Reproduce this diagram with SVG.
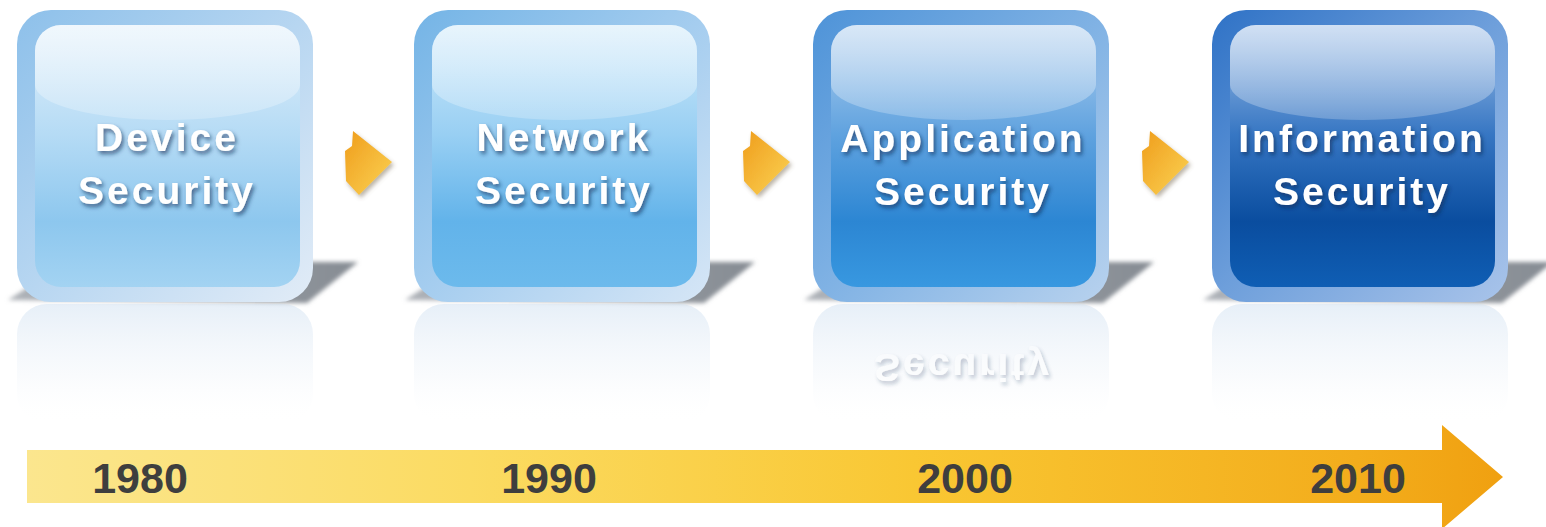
<svg xmlns="http://www.w3.org/2000/svg" width="1546" height="527" viewBox="0 0 1546 527">
<defs>
  <style>
    .lbl{font-family:"Liberation Sans",Arial,sans-serif;font-weight:bold;font-size:39px;letter-spacing:3px;fill:#ffffff;text-anchor:middle}
    .yr{font-family:"Liberation Sans",Arial,sans-serif;font-weight:bold;font-size:43px;fill:#3e3e3e;text-anchor:middle}
    .shd{fill:url(#shadowG);filter:url(#blur)}
    .gloss{fill:url(#gloss)}
  </style>
  <linearGradient id="in1" x1="0" y1="0" x2="0" y2="1">
    <stop offset="0" stop-color="#e2f0fb"/><stop offset="0.42" stop-color="#b5dbf5"/>
    <stop offset="0.75" stop-color="#8dc7ee"/><stop offset="1" stop-color="#a3d3f2"/>
  </linearGradient>
  <linearGradient id="in2" x1="0" y1="0" x2="0" y2="1">
    <stop offset="0" stop-color="#d0eafa"/><stop offset="0.42" stop-color="#98cff3"/>
    <stop offset="0.75" stop-color="#62b3ea"/><stop offset="1" stop-color="#6cbaec"/>
  </linearGradient>
  <linearGradient id="in3" x1="0" y1="0" x2="0" y2="1">
    <stop offset="0" stop-color="#b2d0ef"/><stop offset="0.42" stop-color="#5fa2df"/>
    <stop offset="0.75" stop-color="#2c86d3"/><stop offset="1" stop-color="#3898e0"/>
  </linearGradient>
  <linearGradient id="in4" x1="0" y1="0" x2="0" y2="1">
    <stop offset="0" stop-color="#a2c1e8"/><stop offset="0.42" stop-color="#3676c3"/>
    <stop offset="0.75" stop-color="#0a4d9f"/><stop offset="1" stop-color="#0f5eb4"/>
  </linearGradient>
  <linearGradient id="fr1" x1="0" y1="0" x2="1" y2="1">
    <stop offset="0" stop-color="#8dc0ea"/><stop offset="0.5" stop-color="#b7d6f1"/><stop offset="1" stop-color="#e2ecf7"/>
  </linearGradient>
  <linearGradient id="fr2" x1="0" y1="0" x2="1" y2="1">
    <stop offset="0" stop-color="#74b4e6"/><stop offset="0.5" stop-color="#a5cdef"/><stop offset="1" stop-color="#d6e6f6"/>
  </linearGradient>
  <linearGradient id="fr3" x1="0" y1="0" x2="1" y2="1">
    <stop offset="0" stop-color="#4e93d8"/><stop offset="0.5" stop-color="#80b2e4"/><stop offset="1" stop-color="#b8d2ee"/>
  </linearGradient>
  <linearGradient id="fr4" x1="0" y1="0" x2="1" y2="1">
    <stop offset="0" stop-color="#2f72c6"/><stop offset="0.5" stop-color="#6e9fdb"/><stop offset="1" stop-color="#a9c4ea"/>
  </linearGradient>
  <linearGradient id="gloss" x1="0" y1="0" x2="0" y2="1">
    <stop offset="0" stop-color="#ffffff" stop-opacity="0.5"/><stop offset="1" stop-color="#ffffff" stop-opacity="0.22"/>
  </linearGradient>
  <linearGradient id="shadowG" x1="0" y1="0" x2="1" y2="0">
    <stop offset="0" stop-color="#aeb2b8"/><stop offset="1" stop-color="#868c93"/>
  </linearGradient>
  <linearGradient id="refl" x1="0" y1="0" x2="0" y2="1">
    <stop offset="0" stop-color="#c9dcef" stop-opacity="0.45"/><stop offset="0.6" stop-color="#e2ebf5" stop-opacity="0.2"/><stop offset="1" stop-color="#ffffff" stop-opacity="0"/>
  </linearGradient>
  <linearGradient id="band" x1="27" y1="0" x2="1505" y2="0" gradientUnits="userSpaceOnUse">
    <stop offset="0" stop-color="#fbe68e"/><stop offset="0.3" stop-color="#fbdb62"/>
    <stop offset="0.6" stop-color="#f9c733"/><stop offset="0.9" stop-color="#f3ad1c"/><stop offset="1" stop-color="#f0a010"/>
  </linearGradient>
  <linearGradient id="arrowG" x1="0" y1="0" x2="1" y2="1">
    <stop offset="0" stop-color="#ef9d1c"/><stop offset="1" stop-color="#fbd354"/>
  </linearGradient>
  <filter id="ts" x="-10%" y="-30%" width="130%" height="170%">
    <feDropShadow dx="2" dy="3" stdDeviation="2" flood-color="#0b2c55" flood-opacity="0.65"/>
  </filter>
  <filter id="blur" x="-10%" y="-30%" width="120%" height="160%"><feGaussianBlur stdDeviation="2"/></filter>
  <filter id="as" x="-40%" y="-40%" width="180%" height="180%">
    <feDropShadow dx="2" dy="3" stdDeviation="2" flood-color="#6a5a40" flood-opacity="0.45"/>
  </filter>
</defs>
<rect width="1546" height="527" fill="#ffffff"/>

<g id="node-device" transform="translate(17,0)">
  <polygon class="shd" points="-9,300 290,303 341,262 50,262"/>
  <rect x="0" y="304" width="296" height="120" rx="30" fill="url(#refl)"/>
  <rect x="0" y="10" width="296" height="292" rx="34" fill="url(#fr1)"/>
  <rect x="18" y="25" width="265" height="262" rx="26" fill="url(#in1)"/>
  <path class="gloss" d="M18,51 A26,26 0 0 1 44,25 L257,25 A26,26 0 0 1 283,51 L283,85 A132.5,35 0 0 1 18,85 Z"/>
  <g filter="url(#ts)">
    <text class="lbl" x="150" y="151">Device</text>
    <text class="lbl" x="150" y="204">Security</text>
  </g>
</g>

<g id="node-network" transform="translate(414,0)">
  <polygon class="shd" points="-9,300 290,303 341,262 50,262"/>
  <rect x="0" y="304" width="296" height="120" rx="30" fill="url(#refl)"/>
  <rect x="0" y="10" width="296" height="292" rx="34" fill="url(#fr2)"/>
  <rect x="18" y="25" width="265" height="262" rx="26" fill="url(#in2)"/>
  <path class="gloss" d="M18,51 A26,26 0 0 1 44,25 L257,25 A26,26 0 0 1 283,51 L283,85 A132.5,35 0 0 1 18,85 Z"/>
  <g filter="url(#ts)">
    <text class="lbl" x="150" y="151">Network</text>
    <text class="lbl" x="150" y="204">Security</text>
  </g>
</g>

<g id="node-application" transform="translate(813,0)">
  <polygon class="shd" points="-9,300 290,303 341,262 50,262"/>
  <rect x="0" y="304" width="296" height="120" rx="30" fill="url(#refl)"/>
  <g opacity="0.4" filter="url(#ts)">
    <text class="lbl" transform="matrix(1 0 0 -1 150 354)" x="0" y="0">Security</text>
  </g>
  <rect x="0" y="10" width="296" height="292" rx="34" fill="url(#fr3)"/>
  <rect x="18" y="25" width="265" height="262" rx="26" fill="url(#in3)"/>
  <path class="gloss" d="M18,51 A26,26 0 0 1 44,25 L257,25 A26,26 0 0 1 283,51 L283,85 A132.5,35 0 0 1 18,85 Z"/>
  <g filter="url(#ts)">
    <text class="lbl" x="150" y="152">Application</text>
    <text class="lbl" x="150" y="205">Security</text>
  </g>
</g>

<g id="node-information" transform="translate(1212,0)">
  <polygon class="shd" points="-9,300 290,303 341,262 50,262"/>
  <rect x="0" y="304" width="296" height="120" rx="30" fill="url(#refl)"/>
  <rect x="0" y="10" width="296" height="292" rx="34" fill="url(#fr4)"/>
  <rect x="18" y="25" width="265" height="262" rx="26" fill="url(#in4)"/>
  <path class="gloss" d="M18,51 A26,26 0 0 1 44,25 L257,25 A26,26 0 0 1 283,51 L283,85 A132.5,35 0 0 1 18,85 Z"/>
  <g filter="url(#ts)">
    <text class="lbl" x="150" y="152">Information</text>
    <text class="lbl" x="150" y="205">Security</text>
  </g>
</g>

<g id="connectors" fill="url(#arrowG)" filter="url(#as)">
  <polygon points="353,131 392,162 359,195 346,181 345,151 352,146"/>
  <polygon transform="translate(398,0)" points="353,131 392,162 359,195 346,181 345,151 352,146"/>
  <polygon transform="translate(797,0)" points="353,131 392,162 359,195 346,181 345,151 352,146"/>
</g>

<g id="timeline">
  <path d="M27,450 L1442,450 L1442,425 L1503,477 L1442,529 L1442,503 L27,503 Z" fill="url(#band)"/>
  <text class="yr" x="140" y="493">1980</text>
  <text class="yr" x="549" y="493">1990</text>
  <text class="yr" x="965" y="493">2000</text>
  <text class="yr" x="1358" y="493">2010</text>
</g>
</svg>
